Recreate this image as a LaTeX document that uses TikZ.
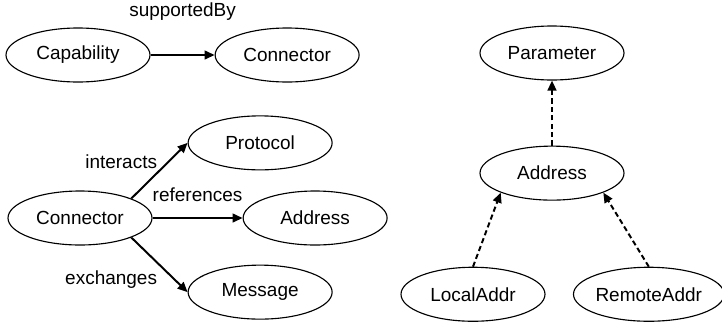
\documentclass[tikz,border=0pt]{standalone}
\usepackage{fontspec}
\setmainfont{Liberation Sans}
\usetikzlibrary{shapes.geometric, arrows.meta, positioning}

\begin{document}
\begin{tikzpicture}[
    node distance=0.5cm,
    concept/.style={
        ellipse,
        draw=black,
        line width=0.8pt,
        minimum width=3.6cm,
        minimum height=1.35cm,
        inner sep=0pt,
        font=\fontsize{13.5}{16}\selectfont
    },
    rel/.style={-{Triangle[length=0.25cm, width=0.22cm]}, line width=1.4pt},
    isa/.style={rel, dash pattern=on 0.13cm off 0.08cm},
    tag/.style={inner sep=1pt, font=\fontsize{13.5}{16}\selectfont}
]
    \useasboundingbox (0,0) rectangle (18.05,-8.075);

    % Top: capability relation
    \node[concept] (cap) at (1.95,-1.375) {Capability};
    \node[concept, right=1.6cm of cap] (conn) {Connector};

    % Left: connector relations
    \node[concept] (connL) at (2.0,-5.45) {Connector};
    \node[concept, right=2.25cm of connL] (addr) {Address};
    \node[concept, above=0.5cm of addr, xshift=-1.375cm] (proto) {Protocol};
    \node[concept, below=0.475cm of addr, xshift=-1.375cm] (msg) {Message};

    % Right: address hierarchy
    \node[concept] (param) at (13.8,-1.325) {Parameter};
    \node[concept, below=1.625cm of param] (addrH) {Address};
    \node[concept, below=1.65cm of addrH, xshift=-1.975cm] (local) {LocalAddr};
    \node[concept, below=1.65cm of addrH, xshift=2.42cm] (remote) {RemoteAddr};

    % Relations
    \draw[rel] (cap) -- node[tag, above=0.8cm] (lsup) {supportedBy} (conn);
    \draw[rel] (connL.north east) -- node[tag, above left] (lint) {interacts} (proto.west);
    \draw[rel] (connL) -- node[tag, above=0.34cm] (lref) {references} (addr);
    \draw[rel] (connL.south east) -- node[tag, below left, yshift=-0.1cm] (lexc) {exchanges} (msg.west);

    % Specialisation
    \draw[isa] (addrH) -- (param);
    \foreach \sub/\side in {local/south west, remote/south east} {
        \draw[isa] (\sub.north) -- (addrH.\side);
    }
\end{tikzpicture}
\end{document}
